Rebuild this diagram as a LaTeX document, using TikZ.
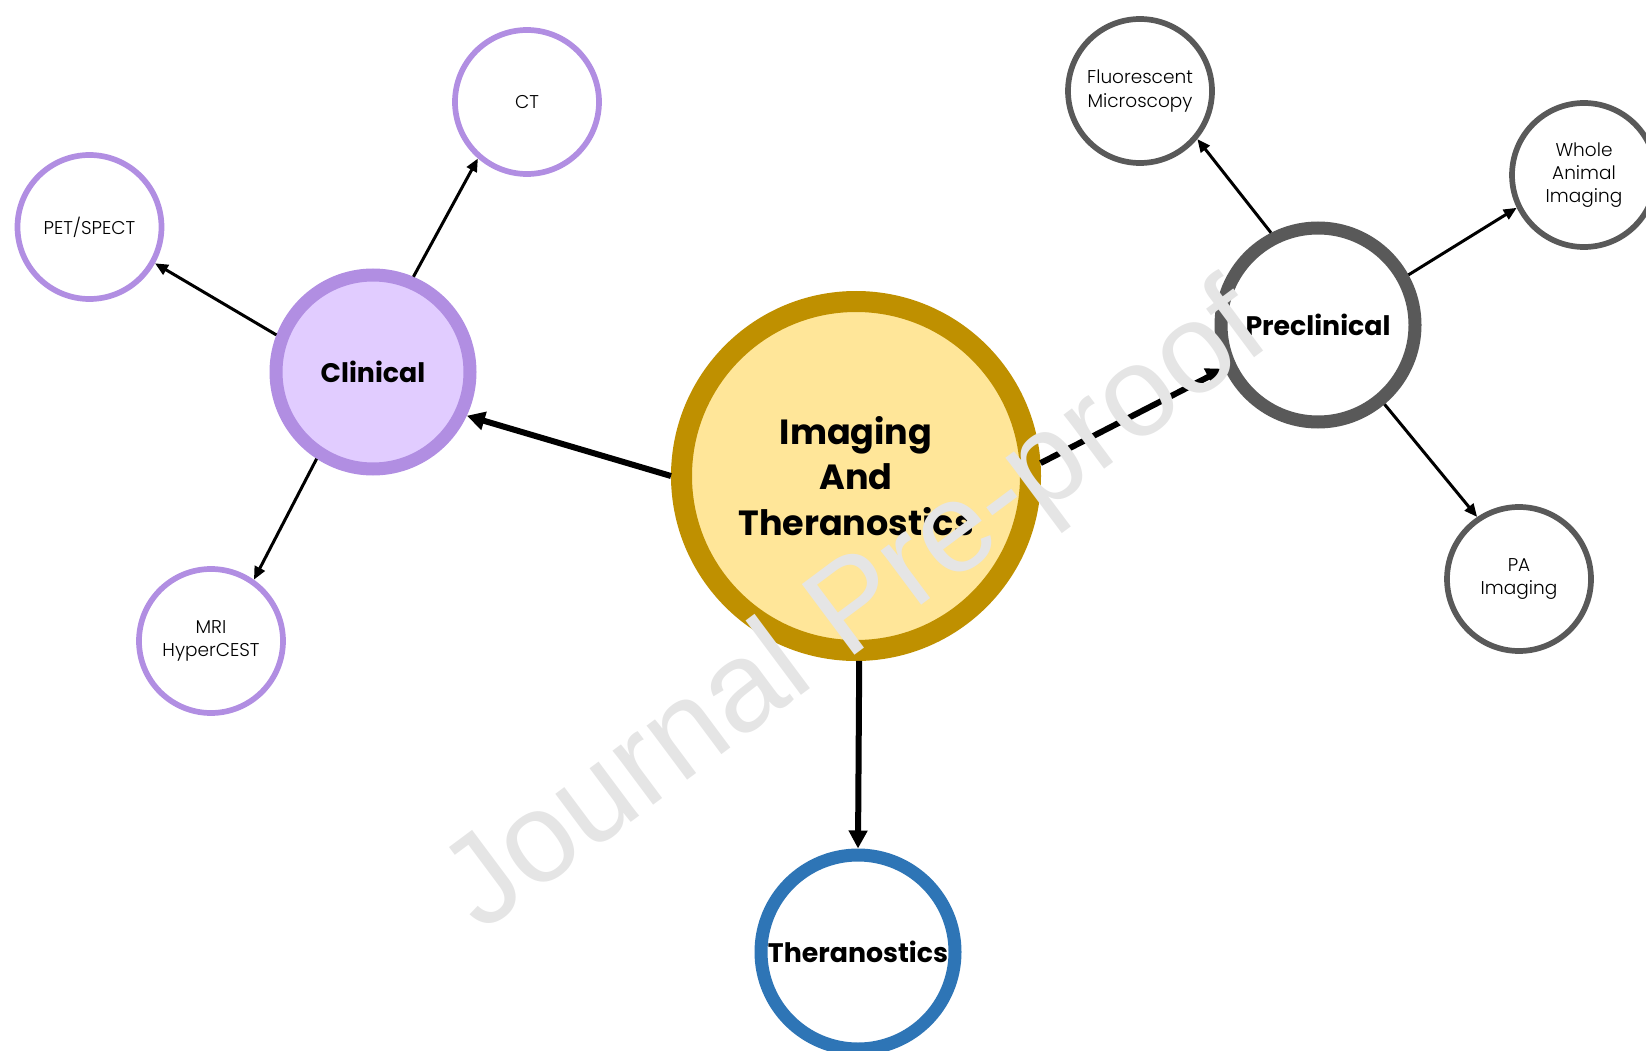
\documentclass[tikz,border=0pt]{standalone}
\usepackage{fontspec}
\setmainfont{Poppins}
\newfontfamily\leaffont{Poppins Light}
\newfontfamily\markfont{Liberation Sans}
\usetikzlibrary{arrows.meta}
\definecolor{goldline}{RGB}{191,144,0}
\definecolor{goldfill}{RGB}{255,230,153}
\definecolor{lilacline}{RGB}{177,142,226}
\definecolor{lilacfill}{RGB}{225,204,255}
\definecolor{slate}{RGB}{89,89,89}
\definecolor{steel}{RGB}{46,117,182}
\definecolor{markgray}{RGB}{229,229,229}
\begin{document}
\begin{tikzpicture}[x=1pt,y=-1pt,
  hub/.style={circle,draw,inner sep=0pt,align=center,line width=13pt,minimum size=194pt,font=\fontsize{26.8}{32}\selectfont\bfseries},
  leaf/.style={circle,draw,inner sep=0pt,align=center,line width=5.7pt,minimum size=144pt,font=\leaffont\fontsize{18.5}{23.3}\selectfont},
  twig/.style={line width=3pt,-{Triangle[length=13pt,width=11pt]}},
  trunk/.style={line width=6pt,-{Triangle[length=18pt,width=18pt]}}]
\useasboundingbox (0,0) rectangle (1646,1051);
\node[circle,draw=goldline,fill=goldfill,line width=21pt,minimum size=349pt,inner sep=0pt,align=center,font=\fontsize{35}{45.8}\selectfont\bfseries] (core) at (856,476) {Imaging\\And\\Theranostics};
\node[hub,draw=lilacline,fill=lilacfill] (clinical) at (373,372) {Clinical};
\node[hub,draw=slate,fill=white] (preclinical) at (1318,325) {Preclinical};
\node[hub,draw=steel,fill=white] (thera) at (858,952) {Theranostics};
\node[leaf,draw=lilacline] (ct) at (527,102) {CT};
\node[leaf,draw=lilacline] (pet) at (89.5,227) {PET/SPECT};
\node[leaf,draw=lilacline] (mri) at (211,641) {MRI\\HyperCEST};
\node[leaf,draw=slate] (fluo) at (1140,91) {Fluorescent\\Microscopy};
\node[leaf,draw=slate] (whole) at (1584,175) {Whole\\Animal\\Imaging};
\node[leaf,draw=slate] (pa) at (1519,579) {PA\\Imaging};
\draw[trunk] (core.180) -- (clinical.-25);
\draw[trunk] (core.4.4) -- (preclinical.205.5);
\draw[trunk] (core.-89.5) -- (thera.90);
\draw[twig] (clinical.67) -- (ct.229);
\draw[twig] (clinical.159) -- (pet.-29);
\draw[twig] (clinical.-123) -- (mri.55);
\draw[twig] (preclinical.117) -- (fluo.-40);
\draw[twig] (preclinical.29.6) -- (whole.206.5);
\draw[twig] (preclinical.-50) -- (pa.124.6);
\node[font=\markfont\fontsize{128}{128}\selectfont,text=markgray,rotate=36.7,anchor=base west,inner sep=0pt] (mark) at (481,934) {Journal Pre-proof};
\end{tikzpicture}
\end{document}
